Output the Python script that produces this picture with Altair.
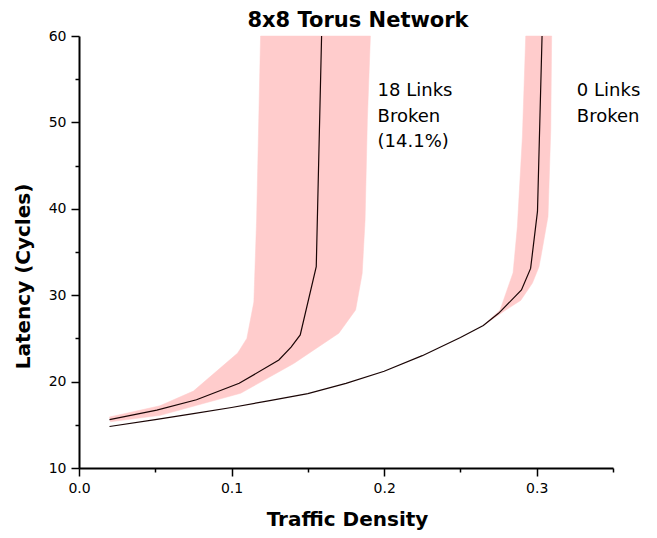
import altair as alt
import pandas as pd

FONT = "DejaVu Sans"

# 0 links broken: mean latency curve
x_zero = [0.02, 0.05, 0.075, 0.1, 0.125, 0.15, 0.175, 0.2, 0.225, 0.25, 0.265, 0.275, 0.29, 0.296, 0.3005, 0.3035]
y_zero = [14.8, 15.6, 16.3, 17.0, 17.8, 18.6, 19.8, 21.2, 23.0, 25.1, 26.5, 27.9, 30.6, 33.1, 39.7, 60.0]

# 18 links broken: mean latency curve
x_18 = [0.02, 0.051, 0.077, 0.105, 0.131, 0.139, 0.145, 0.1555, 0.159]
y_18 = [15.6, 16.7, 17.9, 19.8, 22.5, 24.0, 25.4, 33.3, 60.0]

# Spread bands (outline: upper-left edge bottom->top, then lower-right edge top->bottom)
band18_x = [0.02, 0.053, 0.075, 0.104, 0.110, 0.1146, 0.1164, 0.119,
            0.191, 0.189, 0.1875, 0.1856, 0.1813, 0.1703, 0.1408, 0.106, 0.0534, 0.0206, 0.02]
band18_y = [15.9, 17.2, 18.9, 23.3, 25.0, 29.2, 38.7, 60.0,
            60.0, 50.3, 38.7, 32.5, 28.3, 25.6, 22.1, 18.65, 16.1, 15.35, 15.9]

band0_x = [0.265, 0.276, 0.2845, 0.2873, 0.2906, 0.2928,
           0.3098, 0.3092, 0.3074, 0.3031, 0.3015, 0.2972, 0.2895, 0.279, 0.265]
band0_y = [26.5, 28.3, 32.6, 37.9, 48.3, 60.0,
           60.0, 49.1, 39.1, 34.8, 33.3, 31.4, 29.4, 28.2, 26.5]

# Annotations
label_text = ["18 Links", "Broken", "(14.1%)", "0 Links", "Broken"]
label_x = [0.1957, 0.1957, 0.1957, 0.3263, 0.3263]
label_y = [53.0, 50.1, 47.1, 53.0, 50.1]

lines = pd.DataFrame({
    "x": x_zero + x_18,
    "y": y_zero + y_18,
    "series": ["0 Links"] * len(x_zero) + ["18 Links"] * len(x_18),
})
bands = pd.DataFrame({
    "x": band18_x + band0_x,
    "y": band18_y + band0_y,
    "band": ["18 Links"] * len(band18_x) + ["0 Links"] * len(band0_x),
    "i": list(range(len(band18_x))) + list(range(len(band0_x))),
})
labels = pd.DataFrame({"text": label_text, "x": label_x, "y": label_y})

x_axis = alt.Axis(
    values=[0, 0.05, 0.1, 0.15, 0.2, 0.25, 0.3, 0.35],
    labelExpr="round(datum.value*100) % 10 == 0 ? format(datum.value, '.1f') : ''",
    tickSize={"condition": {"test": "round(datum.value*100) % 10 != 0", "value": 4}, "value": 8},
    title="Traffic Density",
    titleX=268, titleY=57, titleAlign="center", titleBaseline="alphabetic",
    labelPadding=5, labelFlush=False,
)
y_axis = alt.Axis(
    values=[10, 15, 20, 25, 30, 35, 40, 45, 50, 55, 60],
    labelExpr="datum.value % 10 == 0 ? format(datum.value, 'd') : ''",
    tickSize={"condition": {"test": "datum.value % 10 != 0", "value": 4}, "value": 8},
    title="Latency (Cycles)",
    titleX=-49.5, titleY=240, titleAngle=270, titleAlign="center", titleBaseline="alphabetic",
    labelPadding=5, labelFlush=False,
)

xs = alt.Scale(domain=[0, 0.35], nice=False, zero=False)
ys = alt.Scale(domain=[10, 60], nice=False, zero=False)

band_layer = alt.Chart(bands).mark_line(fill="#ffcccc", stroke="#ffcccc", strokeWidth=0.5).encode(
    x=alt.X("x:Q", scale=xs, axis=x_axis),
    y=alt.Y("y:Q", scale=ys, axis=y_axis),
    detail="band:N",
    order="i:Q",
)

line_layer = alt.Chart(lines).mark_line(color="#1a0505", strokeWidth=1.2).encode(
    x=alt.X("x:Q", scale=xs),
    y=alt.Y("y:Q", scale=ys),
    detail="series:N",
)

text_layer = alt.Chart(labels).mark_text(
    align="left", baseline="alphabetic", font=FONT, fontSize=18, color="black"
).encode(
    x=alt.X("x:Q", scale=xs),
    y=alt.Y("y:Q", scale=ys),
    text="text:N",
)

chart = alt.layer(band_layer, line_layer, text_layer).properties(
    width=534,
    height=432,
    autosize="none",
    padding={"left": 71, "top": 28, "right": 35, "bottom": 62},
    title=alt.TitleParams(
        "8x8 Torus Network", font=FONT, fontSize=21, fontWeight="bold",
        anchor="middle", dx=12, baseline="alphabetic", offset=-19, color="black",
    ),
).configure_view(stroke=None).configure_axis(
    grid=False,
    domainColor="black", domainWidth=2,
    tickColor="black", tickWidth=1.5,
    labelColor="black", labelFont=FONT, labelFontSize=14,
    titleColor="black", titleFont=FONT, titleFontSize=20, titleFontWeight="bold",
)

chart.save("out.html", embed_options={"renderer": "svg", "actions": False})
